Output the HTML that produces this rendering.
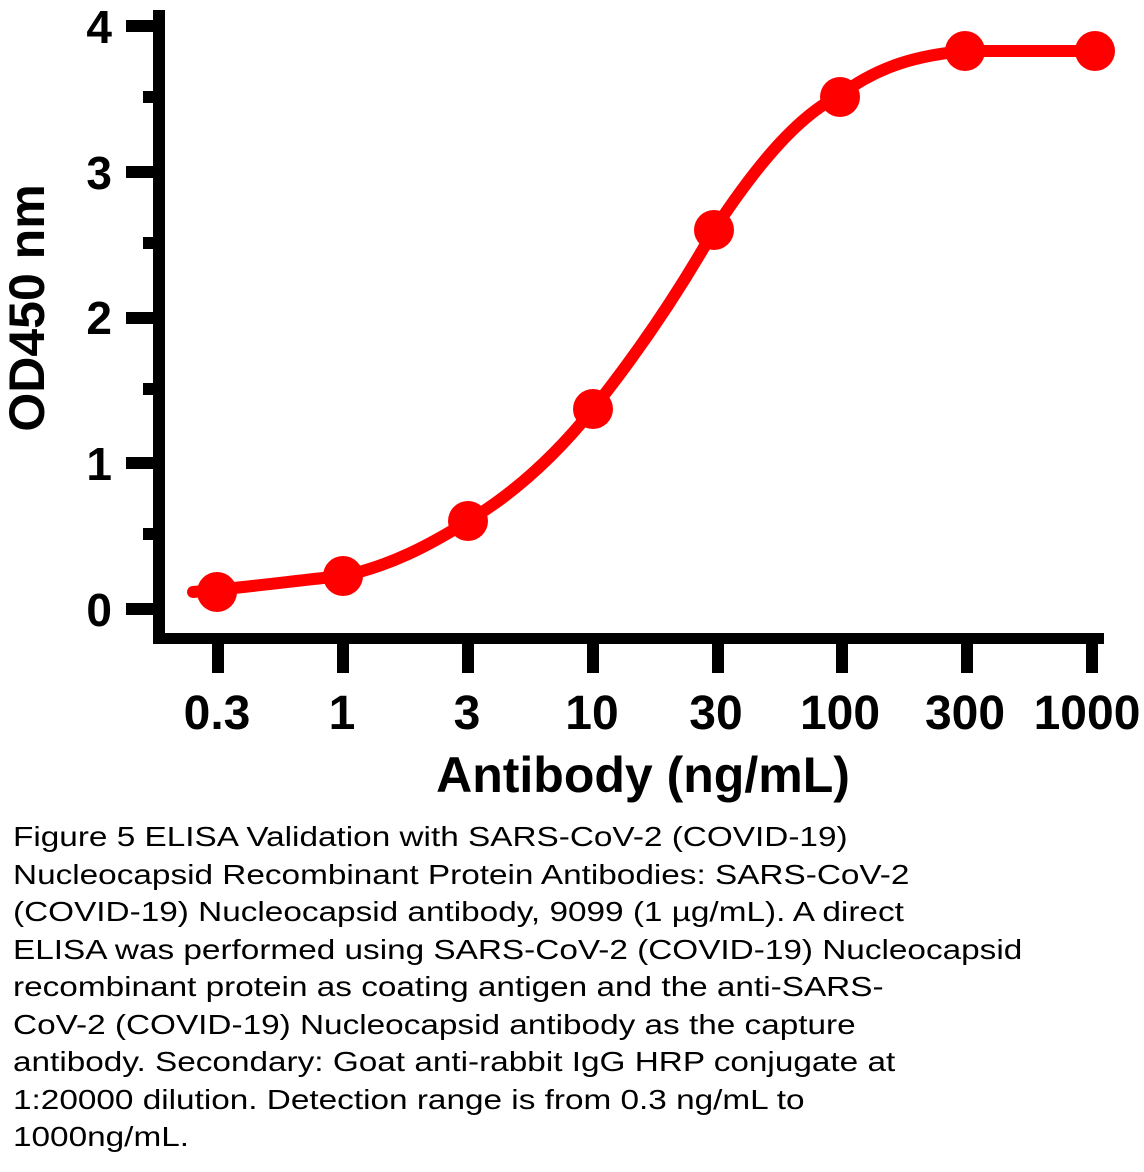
<!DOCTYPE html>
<html><head><style>
body{margin:0;background:#fff;width:1144px;height:1172px;overflow:hidden;}
.cap{position:absolute;left:13px;top:818px;font-family:"Liberation Sans",sans-serif;font-size:28px;line-height:37.5px;color:#000;transform:scaleX(1.19);transform-origin:0 0;white-space:nowrap;}
</style></head><body>
<svg width="1144" height="815" style="position:absolute;left:0;top:0" font-family="Liberation Sans, sans-serif" font-weight="bold">
<g fill="#000">
<rect x="153" y="10" width="12" height="634"/>
<rect x="155" y="633" width="949" height="11"/>
<rect x="126" y="20" width="30" height="12"/>
<rect x="126" y="166" width="30" height="12"/>
<rect x="126" y="312" width="30" height="12"/>
<rect x="126" y="457" width="30" height="12"/>
<rect x="126" y="603" width="30" height="12"/>
<rect x="143" y="91" width="12" height="12"/>
<rect x="143" y="237" width="12" height="12"/>
<rect x="143" y="383" width="12" height="12"/>
<rect x="143" y="528" width="12" height="12"/>
<rect x="212" y="640" width="12" height="33"/>
<rect x="337" y="640" width="12" height="33"/>
<rect x="462" y="640" width="12" height="33"/>
<rect x="587" y="640" width="12" height="33"/>
<rect x="712" y="640" width="12" height="33"/>
<rect x="836" y="640" width="12" height="33"/>
<rect x="961" y="640" width="12" height="33"/>
<rect x="1086" y="640" width="12" height="33"/>
</g>
<g font-size="46" text-anchor="end">
<text x="112" y="43">4</text><text x="112" y="189">3</text><text x="112" y="334">2</text><text x="112" y="480">1</text><text x="112" y="626">0</text>
</g>
<g font-size="48" text-anchor="middle">
<text x="217" y="729">0.3</text><text x="342" y="729">1</text><text x="467" y="729">3</text><text x="592" y="729">10</text><text x="716" y="729">30</text><text x="840" y="729">100</text><text x="965" y="729">300</text><text x="1087" y="729">1000</text>
</g>
<text x="643" y="792" font-size="50" text-anchor="middle">Antibody (ng/mL)</text>
<text transform="translate(44,308) rotate(-90)" font-size="50" text-anchor="middle">OD450 nm</text>
<path d="M193,592 C260,586 300,580 343,576 C390,566 430,545 468,521 C520,490 560,450 593,409 C640,350 680,290 714,230 C760,160 800,115 840,95 C880,65 920,55 965,51 L1095,51" fill="none" stroke="#f00" stroke-width="12" stroke-linecap="round"/>
<g fill="#f00">
<circle cx="217" cy="592" r="20"/><circle cx="343" cy="576" r="20"/><circle cx="468" cy="521" r="20"/><circle cx="593" cy="409" r="20"/><circle cx="714" cy="230" r="20"/><circle cx="840" cy="97" r="20"/><circle cx="965" cy="51" r="20"/><circle cx="1095" cy="51" r="20"/>
</g>
</svg>
<div class="cap">Figure 5 ELISA Validation with SARS-CoV-2 (COVID-19)<br>Nucleocapsid Recombinant Protein Antibodies: SARS-CoV-2<br>(COVID-19) Nucleocapsid antibody, 9099 (1 µg/mL). A direct<br>ELISA was performed using SARS-CoV-2 (COVID-19) Nucleocapsid<br>recombinant protein as coating antigen and the anti-SARS-<br>CoV-2 (COVID-19) Nucleocapsid antibody as the capture<br>antibody. Secondary: Goat anti-rabbit IgG HRP conjugate at<br>1:20000 dilution. Detection range is from 0.3 ng/mL to<br>1000ng/mL.</div>
</body></html>
